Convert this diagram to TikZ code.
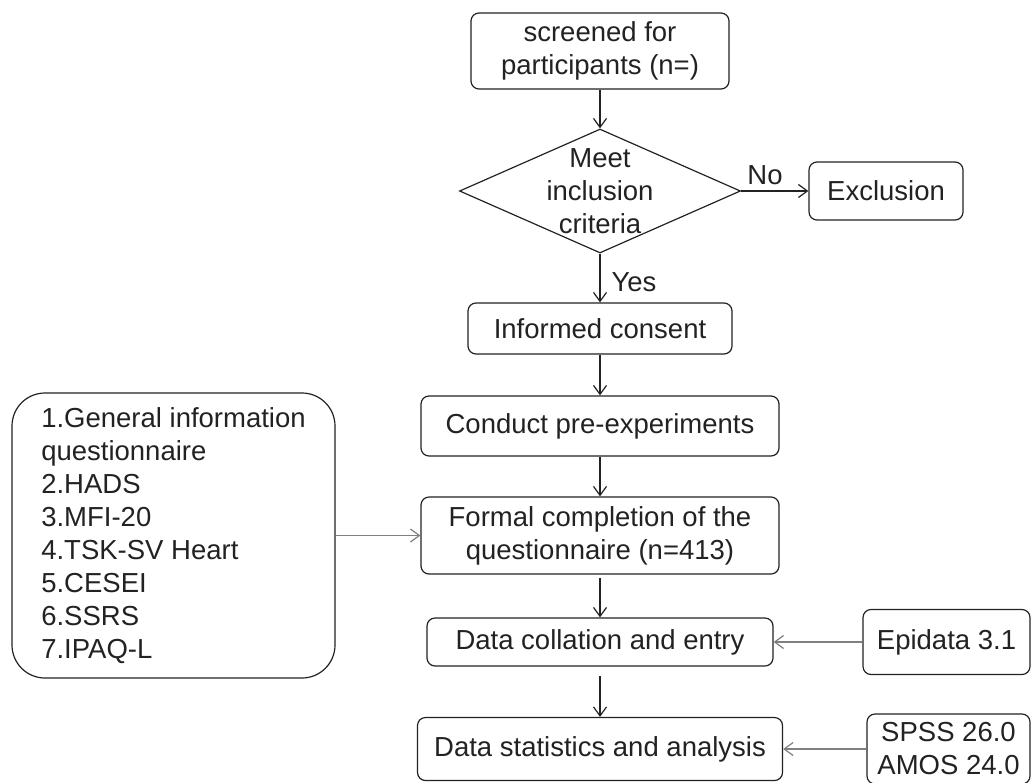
\documentclass[tikz,border=0pt]{standalone}
\usepackage{fontspec}
\setmainfont{Liberation Sans}
\usetikzlibrary{arrows.meta,shapes.geometric}
\definecolor{ink}{HTML}{222222}
\definecolor{side}{HTML}{808080}
\begin{document}
\begin{tikzpicture}[x=1pt,y=-1pt,
  every node/.style={font=\fontsize{27.5}{33}\selectfont, text=ink},
  box/.style={draw=ink, line width=1.2pt, rounded corners=8pt, align=center, inner sep=0pt},
  arr/.style={draw=ink, line width=1.2pt, -{Straight Barb[length=9pt,width=13pt]}},
  sarr/.style={draw=side, line width=1.2pt, -{Straight Barb[length=9pt,width=13pt]}}]
\useasboundingbox (0,0) rectangle (1032,782);
\node[box, minimum width=258pt, minimum height=76pt] (s) at (600,51) {screened for\\participants (n=)};
\node[draw=ink, line width=1.2pt, diamond, minimum width=281pt, minimum height=124pt, inner sep=0pt] (d) at (600,191) {};
\node[align=center, inner sep=0pt] (dt) at (600,191) {Meet\\inclusion\\criteria};
\node[box, minimum width=154pt, minimum height=58pt] (ex) at (886,191) {Exclusion};
\node[box, minimum width=264pt, minimum height=51pt] (ic) at (600,328.5) {Informed consent};
\node[box, minimum width=358pt, minimum height=60pt] (cp) at (600,426) {Conduct pre-experiments};
\node[box, minimum width=358pt, minimum height=77pt] (fc) at (600,535.5) {Formal completion of the\\questionnaire (n=413)};
\node[box, minimum width=346pt, minimum height=48pt] (dc) at (600,642) {Data collation and entry};
\node[box, minimum width=365pt, minimum height=63pt] (ds) at (600,749) {Data statistics and analysis};
\node[box, rounded corners=33pt, minimum width=323pt, minimum height=285pt, align=left] (q) at (173.5,535.5) {1.General information\\questionnaire\\2.HADS\\3.MFI-20\\4.TSK-SV Heart\\5.CESEI\\6.SSRS\\7.IPAQ-L};
\node[box, minimum width=167pt, minimum height=65pt] (ep) at (946.5,642) {Epidata 3.1};
\node[box, minimum width=163pt, minimum height=70pt] (sp) at (948.5,749) {SPSS 26.0\\AMOS 24.0};
\node[inner sep=0pt] (no) at (765,175) {No};
\node[inner sep=0pt] (yes) at (634,282) {Yes};
\draw[arr] (s) -- (d);
\draw[arr] (d) -- (ex);
\draw[arr] (d) -- (ic);
\draw[arr] (ic) -- (cp);
\draw[arr] (cp) -- (fc);
\draw[arr, shorten <=3pt] (fc) -- (dc);
\draw[arr, shorten <=9pt] (dc) -- (ds);
\draw[sarr] (q) -- (fc);
\draw[sarr] (ep) -- (dc);
\draw[sarr] (sp) -- (ds);
\end{tikzpicture}
\end{document}
